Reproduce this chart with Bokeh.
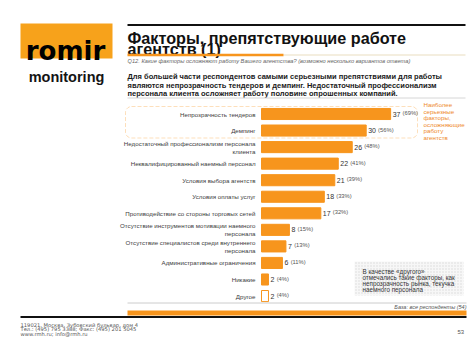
from bokeh.plotting import figure
from bokeh.models import Range1d, ColumnDataSource, BoxAnnotation
from bokeh.core.properties import value
from bokeh.embed import file_html
from bokeh.resources import INLINE

# ---------------- data ----------------
categories = [
    "Непрозрачность тендеров",
    "Демпинг",
    "Недостаточный профессионализм персонала\nклиента",
    "Неквалифицированный наемный персонал",
    "Условия выбора агентств",
    "Условия оплаты услуг",
    "Противодействие со стороны торговых сетей",
    "Отсутствие инструментов мотивации наемного\nперсонала",
    "Отсутствие специалистов среди внутреннего\nперсонала",
    "Административные ограничения",
    "Никакие",
    "Другое",
]
values = [37, 30, 26, 22, 21, 18, 17, 8, 7, 6, 2, 2]
percents = [69, 56, 48, 41, 39, 33, 32, 15, 13, 11, 4, 4]

title_lines = ["Факторы, препятствующие работе", "агентств (1)"]
question = "Q12. Какие факторы осложняют работу Вашего агентства? (возможно несколько вариантов ответа)"
summary_lines = [
    "Для большей части респондентов самыми серьезными препятствиями для работы",
    "являются непрозрачность тендеров и демпинг. Недостаточный профессионализм",
    "персонала клиента осложняет работу половине опрошенных компаний.",
]
callout_lines = ["Наиболее", "серьезные", "факторы,", "осложняющие", "работу", "агентств"]
other_lines = ["В качестве «другого»", "отмечались такие факторы, как",
               "непрозрачность рынка, текучка", "наемного персонала"]
base_note = "База: все респонденты (54)"
footer_lines = ["119021, Москва, Зубовский бульвар, дом 4",
                "Тел.: (495) 795 3388; Факс: (495) 201 5045",
                "www.rmh.ru; info@rmh.ru"]
page_no = "53"

# ---------------- styles ----------------
ORANGE = "#F7951D"
LOGO_ORANGE = "#F7A21B"
SANS = value("Liberation Sans")
W, H = 470, 350
OX, OY = 0, 0  # canvas sits at the page origin -> canvas coordinates equal picture pixels

# bar scale: value 0 at pixel 261, 3.49 px per unit; row 0 centred at 113.5, 16.55 px pitch
BAR_X0, PX_UNIT = 261.0, 3.49
ROW_Y0, ROW_PITCH = 113.5, 16.55

p = figure(width=W, height=H, output_backend="svg", toolbar_location=None,
           x_range=Range1d(OX, OX + W), y_range=Range1d(OY + H, OY),
           x_axis_location=None, y_axis_location=None, min_border=0,
           outline_line_color=None, background_fill_color="white",
           border_fill_color="white")
p.grid.visible = False

p.extra_x_ranges = {"val": Range1d((OX - BAR_X0) / PX_UNIT, (OX + W - BAR_X0) / PX_UNIT)}
p.extra_y_ranges = {"row": Range1d((OY + H - ROW_Y0) / ROW_PITCH, (OY - ROW_Y0) / ROW_PITCH)}

# ---------------- logo ----------------
p.quad(left=[20], right=[112], top=[23], bottom=[58], fill_color=LOGO_ORANGE, line_color=None)
p.text(x=[65], y=[50.5], text=["romir"], text_font=value("DejaVu Sans"),
       text_font_style="bold", text_font_size="26px", text_color="#000000",
       text_align="center", text_baseline="alphabetic")
p.text(x=[66], y=[76], text=["monitoring"], text_font=SANS, text_font_style="bold",
       text_font_size="14.5px", text_color="#141414", text_align="center",
       text_baseline="alphabetic")

# ---------------- header ----------------
p.segment(x0=[127], y0=[24.5], x1=[465], y1=[24.5], line_color="#111111", line_width=2)
p.text(x=[127, 127], y=[37.5, 48.8], text=title_lines, text_font=SANS,
       text_font_style="bold", text_font_size="16.2px", text_color="#111111",
       text_baseline="alphabetic")
p.segment(x0=[283], y0=[54.5], x1=[465], y1=[54.5], line_color="#E9DDBF", line_width=1)
p.segment(x0=[127], y0=[54.5], x1=[283], y1=[54.5], line_color=ORANGE, line_width=2.5)
p.text(x=[127], y=[60.5], text=[question], text_font=SANS, text_font_style="italic",
       text_font_size="5.7px", text_color="#666666", text_baseline="middle")
p.text(x=[127, 127, 127], y=[76, 84.5, 93], text=summary_lines, text_font=SANS,
       text_font_style="bold", text_font_size="7.5px", text_color="#1a1a1a",
       text_baseline="alphabetic")
p.segment(x0=[127], y0=[97.5], x1=[465], y1=[97.5], line_color="#D6D6D6", line_width=1)

# ---------------- bars ----------------
rows = list(range(len(categories)))
n = len(categories)
fills = [ORANGE] * (n - 1) + ["white"]
src = ColumnDataSource(dict(
    row=rows, cat=categories, val=values,
    num=[str(v) for v in values],
    pct=["(%d%%)" % q for q in percents],
    pct_off=[2 + 3.7 * len(str(v)) + 2.5 for v in values],
    fill=fills,
))
p.hbar(y="row", left=0, right="val", height=0.67, source=src, fill_color="fill",
       line_color=ORANGE, line_width=1, x_range_name="val", y_range_name="row")
p.text(x=0, y="row", text="cat", source=src, x_offset=-6, text_align="right",
       text_baseline="middle", text_font=SANS, text_font_size="6.2px",
       text_color="#404040", text_line_height=1.15,
       x_range_name="val", y_range_name="row")
p.text(x="val", y="row", text="num", source=src, x_offset=2, text_align="left",
       text_baseline="middle", text_font=SANS, text_font_size="7px",
       text_color="#333333", x_range_name="val", y_range_name="row")
p.text(x="val", y="row", text="pct", source=src, x_offset="pct_off", y_offset=-1,
       text_align="left", text_baseline="middle", text_font=SANS,
       text_font_size="5.8px", text_color="#555555",
       x_range_name="val", y_range_name="row")

# dashed highlight around the two top factors
p.add_layout(BoxAnnotation(left=125, right=417, top=106, bottom=137.5, fill_alpha=0,
                           line_color=ORANGE, line_dash="4 2", line_width=1,
                           border_radius=6))
p.text(x=[423] * len(callout_lines), y=[104 + 6.6 * i for i in range(len(callout_lines))],
       text=callout_lines, text_font=SANS, text_font_size="6.2px", text_color="#EE8A2B",
       text_baseline="middle")

# "other" note
p.quad(left=[354], right=[463], top=[261], bottom=[295], fill_color="#F7F7F7",
       line_color=None, hatch_pattern="dot", hatch_color="#DADADA", hatch_scale=3)
p.text(x=[362] * len(other_lines), y=[271 + 6 * i for i in range(len(other_lines))],
       text=other_lines, text_font=SANS, text_font_size="6.3px", text_color="#333333",
       text_baseline="middle")

# ---------------- bottom ----------------
p.segment(x0=[127], y0=[302.5], x1=[466], y1=[302.5], line_color="#CCCCCC", line_width=1)
p.text(x=[466], y=[306.5], text=[base_note], text_font=SANS, text_font_style="italic",
       text_font_size="5.5px", text_color="#555555", text_align="right",
       text_baseline="middle")
p.quad(left=[127], right=[466], top=[310], bottom=[315], fill_color=ORANGE, line_color=None)
p.segment(x0=[20], y0=[316.5], x1=[466], y1=[316.5], line_color="#111111", line_width=2)
p.text(x=[20] * 3, y=[324.5, 328.8, 333.1], text=footer_lines, text_font=value("DejaVu Sans"),
       text_font_size="5.2px", text_color="#555555", text_baseline="middle")
p.text(x=[457], y=[331], text=[page_no], text_font=SANS, text_font_size="6px",
       text_color="#555555", text_baseline="middle")

open("out.html", "w").write(file_html(p, INLINE))
